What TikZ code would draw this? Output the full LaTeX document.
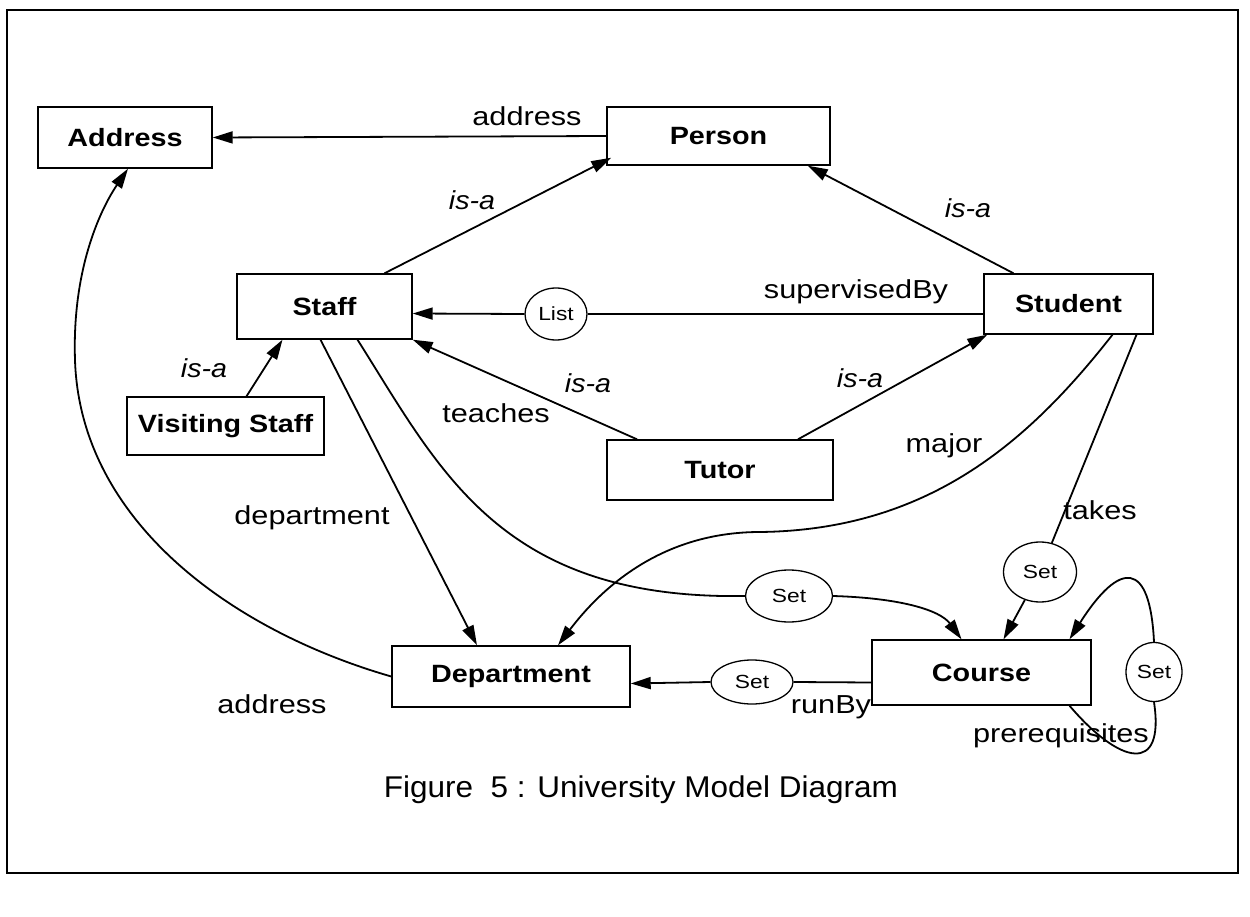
\documentclass[tikz,border=0pt]{standalone}
\usepackage{fontspec}
\setmainfont{Liberation Sans}
\newfontfamily\boxfont[FakeStretch=1.15]{Liberation Sans}
\newfontfamily\lblfont[FakeStretch=1.18]{Liberation Sans}
\newfontfamily\isafont[FakeStretch=1.1]{Liberation Sans}
\newfontfamily\collfont[FakeStretch=1.2]{Liberation Sans}
\newfontfamily\capfont[FakeStretch=1.05]{Liberation Sans}
\usetikzlibrary{arrows.meta,shapes.geometric}
\tikzset{
  entity/.style={draw, line width=1.4pt, inner sep=0pt, font=\boxfont\fontsize{25}{28}\selectfont\bfseries},
  coll/.style={draw, ellipse, line width=1.3pt, inner sep=0pt, font=\collfont\fontsize{19}{21}\selectfont},
  link/.style={line width=1.8pt},
  arr/.style={link, -{Triangle[length=20pt,width=12pt]}},
  lbl/.style={font=\lblfont\fontsize{26}{30}\selectfont},
  isa/.style={font=\isafont\fontsize{26}{30}\selectfont\itshape}
}
\begin{document}
\begin{tikzpicture}[x=1pt,y=-1pt]
\useasboundingbox (0,0) rectangle (1250,917);
% outer frame
\draw[line width=1.6pt] (7,10) rectangle (1238,873);

% classes
\node[entity, minimum width=174pt, minimum height=61pt] (address) at (125,137.5) {Address};
\node[entity, minimum width=223pt, minimum height=58pt] (person) at (718.5,136) {Person};
\node[entity, minimum width=175pt, minimum height=65pt] (staff) at (324.5,306.5) {Staff};
\node[entity, minimum width=169pt, minimum height=60pt] (student) at (1068.5,304) {Student};
\node[entity, minimum width=197pt, minimum height=58pt] (vstaff) at (225.5,426) {Visiting Staff};
\node[entity, minimum width=226pt, minimum height=60pt] (tutor) at (720,470) {Tutor};
\node[entity, minimum width=238pt, minimum height=61pt] (dept) at (511,676.5) {Department};
\node[entity, minimum width=219pt, minimum height=65pt] (course) at (981.5,672.5) {Course};

% collection markers
\node[coll, minimum width=62pt, minimum height=52pt] (list) at (556,314) {List};
\node[coll, minimum width=87pt, minimum height=52pt] (setT) at (789,596) {Set};
\node[coll, minimum width=73pt, minimum height=60pt] (setK) at (1040,572) {Set};
\node[coll, minimum width=82pt, minimum height=44pt] (setR) at (752,682) {Set};
\node[coll, minimum width=56pt, minimum height=59pt] (setP) at (1154,672) {Set};

% address of a person
\draw[arr] (person.west) -- (address.east);
\node[lbl] (lAddr1) at (527,116) {address};

% inheritance
\draw[arr] ([xshift=60pt]staff.north) -- ([shift={(5pt,8pt)}]person.south west);
\node[isa] (lIsa1) at (472,200) {is-a};
\draw[arr] ([xshift=-55pt]student.north) -- ([xshift=-23pt]person.south east);
\node[isa] (lIsa2) at (968,208) {is-a};
\draw[arr] ([xshift=-83pt]tutor.north) -- (staff.south east);
\node[isa] (lIsa3) at (588,383) {is-a};
\draw[arr] ([xshift=78pt]tutor.north) -- ([xshift=4pt]student.south west);
\node[isa] (lIsa4) at (860,378) {is-a};
\draw[arr] ([xshift=21pt]vstaff.north) -- ([xshift=-42pt]staff.south);
\node[isa] (lIsa5) at (204,368) {is-a};

% supervisedBy
\draw[link] ([yshift=-10pt]student.west) -- (list.east);
\draw[arr] (list.west) -- ([yshift=-7pt]staff.east);
\node[lbl] (lSup) at (856,292) {supervisedBy};

% department
\draw[arr] ([xshift=-4pt]staff.south) -- ([xshift=-34pt]dept.north);
\node[lbl] (lDept) at (312,518) {department};

% teaches
\draw[link] ([xshift=33pt]staff.south) .. controls (440,470) and (500,600) .. (setT.west);
\draw[arr] (setT.east) .. controls (900,598) and (940,610) .. ([xshift=-20pt]course.north);
\node[lbl] (lTeach) at (496,413) {teaches};

% major
\coordinate (majMid) at (760,532);
\draw[arr] ([xshift=44pt]student.south) .. controls (1030,440) and (930,530) .. (majMid)
  .. controls (660,532) and (600,590) .. ([xshift=47pt]dept.north);
\node[lbl] (lMajor) at (944,446) {major};

% takes
\draw[link] ([xshift=68pt]student.south) -- (setK);
\draw[arr] (setK) -- ([xshift=22pt]course.north);
\node[lbl] (lTakes) at (1100,510) {takes};

% runBy
\draw[link] ([yshift=-10pt]course.west) -- (setR.east);
\draw[arr] (setR.west) -- ([yshift=-7pt]dept.east);
\node[lbl] (lRun) at (831,707) {runBy};

% address of a department
\coordinate (addrMid) at (75,360);
\draw[arr] (dept.west) .. controls (230,630) and (80,520) .. (addrMid)
  .. controls (72,270) and (100,210) .. ([xshift=3pt]address.south);
\node[lbl] (lAddr2) at (272,704) {address};

% prerequisites loop
\draw[link] ([xshift=88pt]course.south) .. controls (1120,765) and (1165,775) .. (setP.south);
\draw[arr] (setP.north) .. controls (1150,560) and (1120,560) .. ([xshift=88pt]course.north);
\node[lbl] (lPre) at (1061,736) {prerequisites};

% caption
\node[font=\capfont\fontsize{30}{34}\selectfont] (caption) at (641,790) {Figure\ \ 5 : University Model Diagram};
\end{tikzpicture}
\end{document}
